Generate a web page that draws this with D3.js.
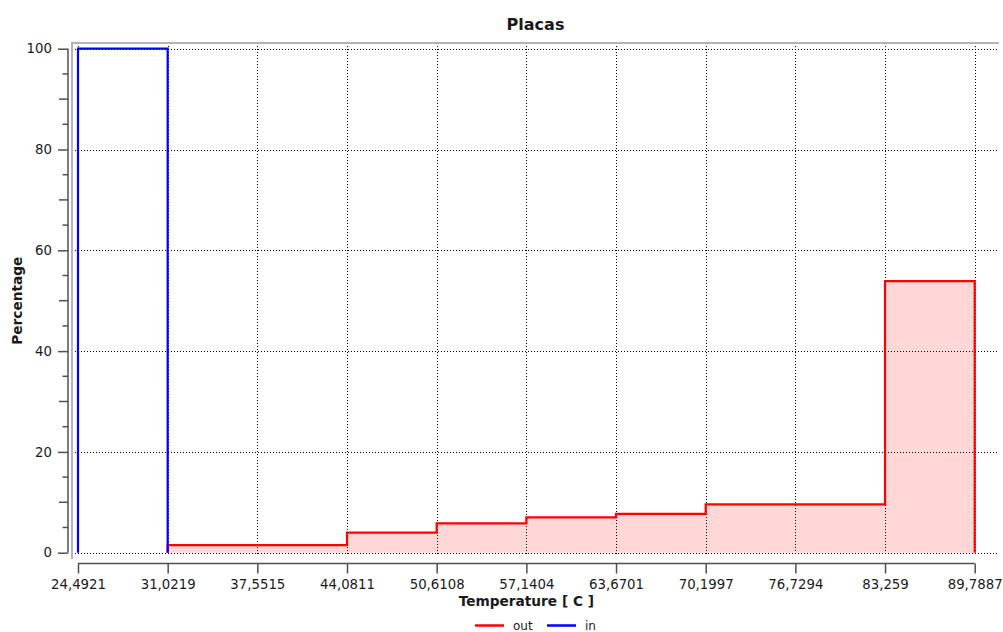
<!DOCTYPE html>
<html>
<head>
<meta charset="utf-8">
<title>Placas</title>
<script src="https://d3js.org/d3.v7.min.js"></script>
<style>
    body { margin: 0; background: #fff; }
    svg text { font-family: "DejaVu Sans", Verdana, sans-serif; fill: #1a1a1a; }
    .grid line { stroke: #000; stroke-width: 1; stroke-dasharray: 1,2; shape-rendering: crispEdges; }
    .axis path, .axis line { stroke: #505050; stroke-width: 1.5; fill: none; }
</style>
</head>
<body>
<div id="chart"></div>
<script>
// histogram bin edges (temperature, C)
var binEdges = [24.4921, 31.0219, 37.5515, 44.0811, 50.6108, 57.1404, 63.6701, 70.1997, 76.7294, 83.259, 89.7887];
var tickLabels = ['24,4921', '31,0219', '37,5515', '44,0811', '50,6108', '57,1404', '63,6701', '70,1997', '76,7294', '83,259', '89,7887'];
// percentage per bin, null = no bar
var outPct = [null, 1.5, 1.5, 4.0, 5.8, 7.0, 7.7, 9.6, 9.6, 53.9];
var inPct = [100, null, null, null, null, null, null, null, null, null];
var yTicks = [0, 20, 40, 60, 80, 100];
var seriesNames = ['out', 'in'];
var seriesColors = ['#ff0000', '#0000ff'];

var width = 1003, height = 632;
var canvas = {left: 72, top: 43, right: 999, bottom: 559};

var svg = d3.select('#chart').append('svg')
    .attr('width', width)
    .attr('height', height);

var x = d3.scaleLinear()
    .domain([binEdges[0], binEdges[binEdges.length - 1]])
    .range([78, 974.7]);
var y = d3.scaleLinear()
    .domain([0, 100])
    .range([552.7, 48.7]);

// title
svg.append('text')
    .attr('x', (canvas.left + canvas.right) / 2)
    .attr('y', 30)
    .attr('text-anchor', 'middle')
    .style('font-size', '16px')
    .style('font-weight', 'bold')
    .text('Placas');

// build step outline for a series
function stepPoints(vals) {
    var pts = [];
    var first = -1, last = -1;
    vals.forEach(function (v, i) {
        if (v === null) return;
        if (first < 0) { first = i; pts.push([binEdges[i], 0]); }
        pts.push([binEdges[i], v]);
        pts.push([binEdges[i + 1], v]);
        last = i;
    });
    pts.push([binEdges[last + 1], 0]);
    return pts;
}

var line = d3.line()
    .x(function (d) { return x(d[0]); })
    .y(function (d) { return y(d[1]); });
var area = d3.area()
    .x(function (d) { return x(d[0]); })
    .y0(y(0))
    .y1(function (d) { return y(d[1]); });

var outPts = stepPoints(outPct);
var inPts = stepPoints(inPct);

svg.append('path')
    .datum(outPts)
    .attr('d', area)
    .attr('fill', '#ffd7d7');

// grid sits on top of the fill
var grid = svg.append('g').attr('class', 'grid');
grid.selectAll('.gx').data(binEdges).enter().append('line')
    .attr('x1', function (d) { return Math.round(x(d)) + 0.5; })
    .attr('x2', function (d) { return Math.round(x(d)) + 0.5; })
    .attr('y1', canvas.top)
    .attr('y2', canvas.bottom - 3);
grid.selectAll('.gy').data(yTicks).enter().append('line')
    .attr('x1', canvas.left + 3)
    .attr('x2', canvas.right)
    .attr('y1', function (d) { return Math.round(y(d)) + 0.5; })
    .attr('y2', function (d) { return Math.round(y(d)) + 0.5; });

svg.append('path')
    .datum(outPts)
    .attr('d', line)
    .attr('fill', 'none')
    .attr('stroke', seriesColors[0])
    .attr('stroke-width', 2.2);
svg.append('path')
    .datum(inPts)
    .attr('d', line)
    .attr('fill', 'none')
    .attr('stroke', seriesColors[1])
    .attr('stroke-width', 2.2);

// canvas frame (top + left only, sunken look)
svg.append('line')
    .attr('x1', canvas.left).attr('x2', canvas.right)
    .attr('y1', canvas.top).attr('y2', canvas.top)
    .attr('stroke', '#b4b4b4').attr('stroke-width', 2);
svg.append('line')
    .attr('x1', canvas.left).attr('x2', canvas.left)
    .attr('y1', canvas.top - 1).attr('y2', canvas.bottom)
    .attr('stroke', '#b4b4b4').attr('stroke-width', 2);

// y axis
var yAxis = svg.append('g')
    .attr('class', 'axis')
    .attr('transform', 'translate(68,0)')
    .call(d3.axisLeft(y).tickValues(yTicks).tickSize(10).tickSizeOuter(0).tickPadding(6));
yAxis.selectAll('text').style('font-size', '13.3px');
yAxis.select('.domain').attr('d', 'M0,' + y(100) + 'V' + y(0));
var minorY = d3.range(5, 100, 5).filter(function (d) { return d % 20 !== 0; });
yAxis.selectAll('.minor').data(minorY).enter().append('line')
    .attr('x1', function (d) { return d % 10 === 0 ? -9 : -5.5; })
    .attr('x2', 0)
    .attr('y1', function (d) { return y(d); })
    .attr('y2', function (d) { return y(d); });

// x axis
var xAxis = svg.append('g')
    .attr('class', 'axis')
    .attr('transform', 'translate(0,563.5)')
    .call(d3.axisBottom(x).tickValues(binEdges).tickSize(10).tickSizeOuter(0).tickPadding(6)
        .tickFormat(function (d, i) { return tickLabels[i]; }));
xAxis.selectAll('text').style('font-size', '13.3px');
xAxis.select('.domain').attr('d', 'M' + x(binEdges[0]) + ',0H' + x(binEdges[binEdges.length - 1]));

// axis titles
svg.append('text')
    .attr('x', (x.range()[0] + x.range()[1]) / 2)
    .attr('y', 606)
    .attr('text-anchor', 'middle')
    .style('font-size', '13.7px')
    .style('font-weight', 'bold')
    .text('Temperature [ C ]');
svg.append('text')
    .attr('transform', 'translate(22,' + (y(0) + y(100)) / 2 + ') rotate(-90)')
    .attr('text-anchor', 'middle')
    .style('font-size', '13.7px')
    .style('font-weight', 'bold')
    .text('Percentage');

// legend
var legendX = [475, 547];
var legend = svg.append('g');
seriesNames.forEach(function (name, i) {
    legend.append('line')
        .attr('x1', legendX[i]).attr('x2', legendX[i] + 29)
        .attr('y1', 625.5).attr('y2', 625.5)
        .attr('stroke', seriesColors[i])
        .attr('stroke-width', 2.5);
    legend.append('text')
        .attr('x', legendX[i] + 38)
        .attr('y', 630)
        .style('font-size', '12px')
        .text(name);
});
</script>
</body>
</html>
